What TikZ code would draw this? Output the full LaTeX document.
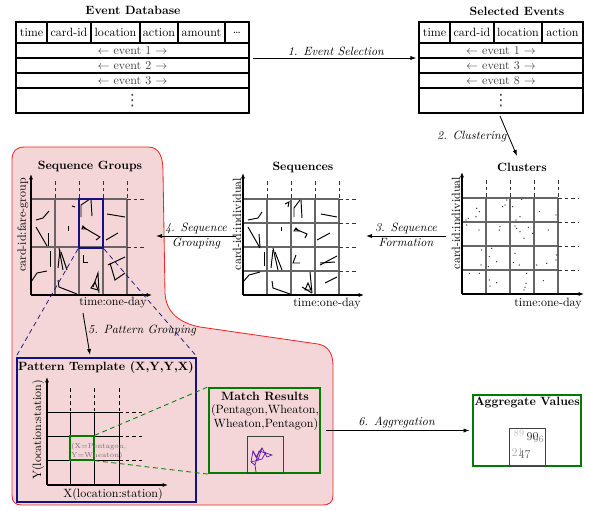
\documentclass[tikz,border=0pt]{standalone}
\usepackage{fontspec}
\newfontfamily\dvsans{DejaVu Sans}
\usetikzlibrary{arrows.meta,fit,calc}
\definecolor{navyb}{RGB}{18,18,130}
\definecolor{grn}{RGB}{0,125,0}
\definecolor{blobfill}{RGB}{244,214,216}
\definecolor{blobline}{RGB}{240,40,40}
\definecolor{purp}{RGB}{95,25,175}
\begin{document}
\begin{tikzpicture}[x=0.833pt,y=-0.833pt,
  tbl/.style={draw=black, line width=0.9pt},
  rowtxt/.style={text=black!75, inner sep=0pt},
  vdotstxt/.style={text=black!75, inner sep=0pt, font=\dvsans\fontsize{13}{13}\selectfont},
  gl/.style={draw=black!60, line width=1pt},
  gd/.style={draw=black!80, line width=0.8pt, dash pattern=on 3pt off 2.5pt},
  pgl/.style={draw=black, line width=0.7pt},
  ax/.style={line width=0.9pt, -{Latex[length=4.5pt,width=3.5pt]}},
  arr/.style={line width=0.7pt, -{Latex[length=5pt,width=3.5pt]}},
  lbl/.style={font=\itshape, inner sep=1.5pt},
  ttl/.style={font=\bfseries, inner sep=0pt},
  seg/.style={line width=0.8pt, black},
  fitbox/.style={inner sep=0pt}
]
\useasboundingbox (0,0) rectangle (590,510);

% ---------- red blob region ----------
\draw[blobline, fill=blobfill, line width=0.7pt]
  (12,160) .. controls (12,151) and (16,147) .. (25,147)
  -- (148,147) .. controls (159,147) and (163,156) .. (163,172)
  -- (165,293) .. controls (166,313) and (180,323) .. (200,327)
  -- (318,344) .. controls (328,346) and (333,353) .. (333,366)
  -- (333,495) .. controls (333,502) and (330,505) .. (322,505)
  -- (22,505) .. controls (15,505) and (12,502) .. (12,495) -- cycle;

% ---------- Event Database ----------
\node[ttl] (edbt) at (133,10) {Event Database};
\foreach \a/\b/\t [count=\i] in {16/47/time,47/91/card-id,91/140/location,140/178/action,178/225/amount}{
  \draw[tbl] (\a,22) rectangle (\b,43);
  \node[inner sep=0pt] (eh\i) at ({(\a+\b)/2},32.5) {\t};
}
\draw[tbl] (225,22) rectangle (249,43);
\node[inner sep=0pt] (eh6) at (237,32.5) {\textellipsis};
\foreach \y/\z/\t [count=\i] in {43/58/1,58/73/2,73/88/3}{
  \draw[tbl] (16,\y) rectangle (249,\z);
  \node[rowtxt] (er\i) at (132.5,{(\y+\z)/2}) {$\leftarrow$ event \t\ $\rightarrow$};
}
\draw[tbl] (16,88) rectangle (249,113);
\node[vdotstxt] (edots) at (132.5,100.5) {⋮};
\coordinate (edbA) at (16,22); \coordinate (edbB) at (249,113);
\node[fitbox, fit=(edbA)(edbB)] (edb) {};

% ---------- Selected Events ----------
\node[ttl] (selt) at (517,11) {Selected Events};
\foreach \a/\b/\t [count=\i] in {419/450/time,450/494/card-id,494/542/location,542/583/action}{
  \draw[tbl] (\a,22) rectangle (\b,43);
  \node[inner sep=0pt] (sh\i) at ({(\a+\b)/2},32.5) {\t};
}
\foreach \y/\z/\t [count=\i] in {43/58/1,58/73/3,73/88/8}{
  \draw[tbl] (419,\y) rectangle (583,\z);
  \node[rowtxt] (sr\i) at (501,{(\y+\z)/2}) {$\leftarrow$ event \t\ $\rightarrow$};
}
\draw[tbl] (419,88) rectangle (583,113);
\node[vdotstxt] (sdots) at (501,100.5) {⋮};
\coordinate (selA) at (419,22); \coordinate (selB) at (583,113);
\node[fitbox, fit=(selA)(selB)] (sel) {};

% arrow 1
\coordinate (a1s) at (253,58);
\draw[arr, shorten >=2pt] (a1s) -- (a1s -| sel.west) node[midway, above, lbl] (l1) {1. Event Selection};

% ---------- Clusters ----------
\node[ttl] (clt) at (522,167) {Clusters};
\coordinate (a2s) at (500,116);
\coordinate (a2e) at (517,156);
\draw[arr] (a2s) -- (a2e) node[midway, left, lbl] (l2) {2. Clustering};

\foreach \x in {486,510,534,558}{
  \draw[gl] (\x,198) -- (\x,294);
  \draw[gd] (\x,180) -- (\x,198);
}
\foreach \y in {198,222,246,270}{
  \draw[gl] (462,\y) -- (558,\y);
  \draw[gd] (558,\y) -- (578,\y);
}
\draw[ax] (462,294) -- (462,172);
\draw[ax] (462,294) -- (584,294);
\node[rotate=90, inner sep=0pt] (cly) at (456,223) {card-id:individual};
\node[inner sep=0pt] (clx) at (548,304) {time:one-day};
\foreach \p in {(476.7,208.3),(479.3,211.7),(476,216.7),(468.3,218.3),(466,220),(506.7,200),(505,205),(502.7,206.7),(512.7,206.7),(521.7,199.3),(520,216.7),(516,220),(539.3,211.7),(556,215),
  (466.7,225),(479,230),(500,226.7),(499.3,230),(515,226),(516.7,228.3),(520,231.7),(524,238.3),(532.7,233.3),(548.3,230),(528.3,227.3),
  (481.7,250),(481,265),(491.7,248.3),(489.3,256.7),(496.7,261.7),(488.3,266.7),(515,253.3),(513.3,262.7),(519.3,265),(536.7,265),(556.7,255),(556,260),(546.7,263.3),
  (469.3,273.3),(479.3,273.3),(489.3,280),(490,286),(496.7,282.7),(526,283.3),(525,287.3),(524,290),(543.3,280.7),(526.7,273.3)}{
  \fill[black] \p circle[radius=0.6];
}
\coordinate (clA) at (456,172); \coordinate (clB) at (584,294);
\node[fitbox, fit=(clA)(clB)] (cl) {};

% ---------- Sequences ----------
\node[ttl] (sqt) at (303,167) {Sequences};
\foreach \x in {267,291,315,339}{
  \draw[gl] (\x,199) -- (\x,295);
  \draw[gd] (\x,181) -- (\x,199);
}
\foreach \y in {199,223,247,271}{
  \draw[gl] (243,\y) -- (339,\y);
  \draw[gd] (339,\y) -- (358,\y);
}
\draw[ax] (243,295) -- (243,173);
\draw[ax] (243,295) -- (364,295);
\node[rotate=90, inner sep=0pt] (sqy) at (237,224) {card-id:individual};
\node[inner sep=0pt] (sqx) at (327,304) {time:one-day};
\draw[seg] (248,220) -- (258,218) -- (262,212);
\draw[seg] (285,204) -- (289,202) -- (288,207);
\draw[seg] (294,217) -- (294,208) -- (300,200);
\draw[seg] (301,200) -- (302,218);
\draw[seg] (321,214) -- (337,217);
\draw[seg] (248,227) -- (260,248);
\draw[seg] (259,234) -- (260,247);
\draw[seg] (281,227) -- (281,231);
\draw[seg] (295,229) -- (300,231) -- (307,234) -- (305,238);
\draw[seg] (296,228) -- (299,231) -- (294,231) -- cycle;
\draw[seg] (317,240) -- (330,233);
\draw[seg] (264,252) -- (264,266);
\draw[seg] (273,248) -- (278,270);
\draw[seg] (273,250) -- (271,268);
\draw[seg] (275,252) -- (282,270);
\draw[seg] (296,255) -- (293,263) -- (300,263);
\draw[seg] (320,265) -- (337,256);
\draw[seg] (320,263) -- (335,262);
\draw[seg] (243,282) -- (249,275) -- (260,272);
\draw[seg] (272,281) -- (273,288) -- (290,294);
\draw[seg] (310,272) -- (312,293);
\draw[seg] (305,290) -- (308,283) -- (311,290) -- cycle;
\draw[seg] (302,287) -- (312,293);
\draw[seg] (325,283) -- (337,277);
\coordinate (sqA) at (237,173); \coordinate (sqB) at (364,295);
\node[fitbox, fit=(sqA)(sqB)] (sq) {};

% arrow 3
\coordinate (a3s) at (446,236);
\coordinate (a3e) at (366,236);
\draw[arr] (a3s) -- (a3e)
  node[midway, above, lbl] (l3a) {3. Sequence}
  node[midway, below, lbl] (l3b) {Formation};

% ---------- Sequence Groups ----------
\node[ttl] (sgt) at (90,166) {Sequence Groups};
\foreach \x in {55,79,103,127}{
  \draw[gl] (\x,199) -- (\x,295);
  \draw[gd] (\x,181) -- (\x,199);
}
\foreach \y in {199,247}{
  \draw[gl] (31,\y) -- (127,\y);
  \draw[gd] (127,\y) -- (146,\y);
}
\draw[ax] (31,295) -- (31,174);
\draw[ax] (31,295) -- (152,295);
\node[rotate=90, inner sep=0pt] (sgy) at (23,225) {card-id:fare-group};
\node[inner sep=0pt] (sgx) at (113,303) {time:one-day};
\draw[seg] (36,220) -- (43,218) -- (49,211);
\draw[seg] (36,227) -- (47,246);
\draw[seg] (48,233) -- (48,246);
\draw[seg] (68,226) -- (68,231);
\draw[seg] (72,206) -- (75,207);
\draw[seg] (81,217) -- (81,205) -- (90,199);
\draw[seg] (91,200) -- (92,216);
\draw[seg] (83,227) -- (93,233) -- (100,237) -- (96,240);
\draw[seg] (83,226) -- (86,229) -- (82,229) -- cycle;
\draw[seg] (107,214) -- (125,217);
\draw[seg] (106,240) -- (118,233);
\draw[seg] (31,282) -- (37,273) -- (47,271);
\draw[seg] (50,251) -- (50,267);
\draw[seg] (59,248) -- (63,270);
\draw[seg] (60,250) -- (58,268);
\draw[seg] (61,252) -- (67,270);
\draw[seg] (58,280) -- (59,287) -- (77,294);
\draw[seg] (83,255) -- (83,262) -- (88,262);
\draw[seg] (93,287) -- (98,273) -- (99,293);
\draw[seg] (91,288) -- (95,282) -- (98,290) -- cycle;
\draw[seg] (108,265) -- (125,257);
\draw[seg] (110,263) -- (115,280) -- (125,273);
\coordinate (hbA) at (79,199); \coordinate (hbB) at (103,248);
\node[fitbox, fit=(hbA)(hbB), draw=navyb, line width=1.8pt] (hb) {};
\coordinate (sgA) at (23,174); \coordinate (sgB) at (152,295);
\node[fitbox, fit=(sgA)(sgB)] (sg) {};

% arrow 4
\coordinate (a4s) at (236,236);
\coordinate (a4e) at (156,236);
\draw[arr] (a4s) -- (a4e)
  node[midway, above, lbl] (l4a) {4. Sequence}
  node[midway, below, lbl] (l4b) {Grouping};

% ---------- Pattern Template ----------
\coordinate (ptA) at (17,358); \coordinate (ptB) at (196,502);
\node[fitbox, fit=(ptA)(ptB), draw=navyb, line width=1.8pt] (pt) {};
\node[ttl] (ptt) at (106,367) {Pattern Template (X,Y,Y,X)};
\draw[navyb, line width=0.6pt, dash pattern=on 4pt off 3pt] (hb.south west) -- (pt.north west);
\draw[navyb, line width=0.6pt, dash pattern=on 4pt off 3pt] (hb.south east) -- (pt.north east);

% arrow 5
\coordinate (a5s) at (83,313);
\coordinate (a5e) at (90,355);
\draw[arr] (a5s) -- (a5e) node[pos=0.42, right, lbl] (l5) {5. Pattern Grouping};

\foreach \x in {70,94,119}{
  \draw[pgl] (\x,412) -- (\x,485);
  \draw[pgl, dash pattern=on 3pt off 2.5pt] (\x,388) -- (\x,412);
}
\foreach \y in {412,436,460}{
  \draw[pgl] (47,\y) -- (119,\y);
  \draw[pgl, dash pattern=on 3pt off 2.5pt] (119,\y) -- (143,\y);
}
\draw[ax] (47,485) -- (47,377);
\draw[ax] (47,485) -- (168,485);
\node[rotate=90, inner sep=0pt] (pty) at (38,430) {Y(location:station)};
\node[inner sep=0pt] (ptx) at (113,494) {X(location:station)};
\coordinate (gbA) at (70,436); \coordinate (gbB) at (94,460);
\node[fitbox, fit=(gbA)(gbB), draw=grn, line width=1pt] (gb) {};
\node[anchor=west, align=left, inner sep=0pt, text=black!55, font=\fontsize{6}{8}\selectfont] (gbt) at (71,451) {(X=Pentagon,\\Y=Wheaton)};

% ---------- Match Results ----------
\coordinate (mrA) at (209,388); \coordinate (mrB) at (320,473);
\node[fitbox, fit=(mrA)(mrB), draw=grn, line width=1.8pt] (mr) {};
\draw[grn, line width=0.7pt, dash pattern=on 4pt off 3pt] (gb.north east) -- (mr.north west);
\draw[grn, line width=0.7pt, dash pattern=on 4pt off 3pt] (gb.south east) -- (mr.south west);
\node[ttl] (mrt) at (265,396) {Match Results};
\node[inner sep=0pt] (mr1) at (265,410) {(Pentagon,Wheaton,};
\node[inner sep=0pt] (mr2) at (266,424) {Wheaton,Pentagon)};
\coordinate (miA) at (247,436); \coordinate (miB) at (283,473);
\node[fitbox, fit=(miA)(miB), draw=black!75, line width=0.7pt] (mi) {};
\draw[purp, line width=0.6pt] (256,472) -- (255,465) -- (251,462) -- (253,451) -- (258,460) -- (262,448) -- (267,457) -- (272,455) -- (259,451) -- (255,465);
\draw[purp, line width=0.6pt] (251,462) -- (262,459) -- (266,452);
\draw[purp, line width=0.6pt] (253,451) -- (256,457) -- (262,448);

% arrow 6
\coordinate (avA) at (473,395); \coordinate (avB) at (581,466);
\node[fitbox, fit=(avA)(avB), draw=grn, line width=1.8pt] (av) {};
\draw[arr, shorten <=4pt, shorten >=2pt] (mr.east) -- (av.west) node[midway, above, lbl] (l6) {6. Aggregation};

% ---------- Aggregate Values ----------
\node[ttl] (avt) at (527,403) {Aggregate Values};
\coordinate (aiA) at (509,428); \coordinate (aiB) at (545,466);
\node[fitbox, fit=(aiA)(aiB), draw=black!75, line width=0.7pt] (ai) {};
\node[text=black!25, inner sep=0pt, font=\footnotesize] (n89) at (519,433) {89};
\node[text=black!80, inner sep=0pt] (n90) at (532.5,436.5) {90};
\node[text=black!45, inner sep=0pt, font=\footnotesize] (n96) at (538.5,439) {96};
\node[text=black!30, inner sep=0pt] (n21) at (517.5,452.5) {21};
\node[text=black!60, inner sep=0pt] (n47) at (524.5,455) {47};
\end{tikzpicture}
\end{document}
